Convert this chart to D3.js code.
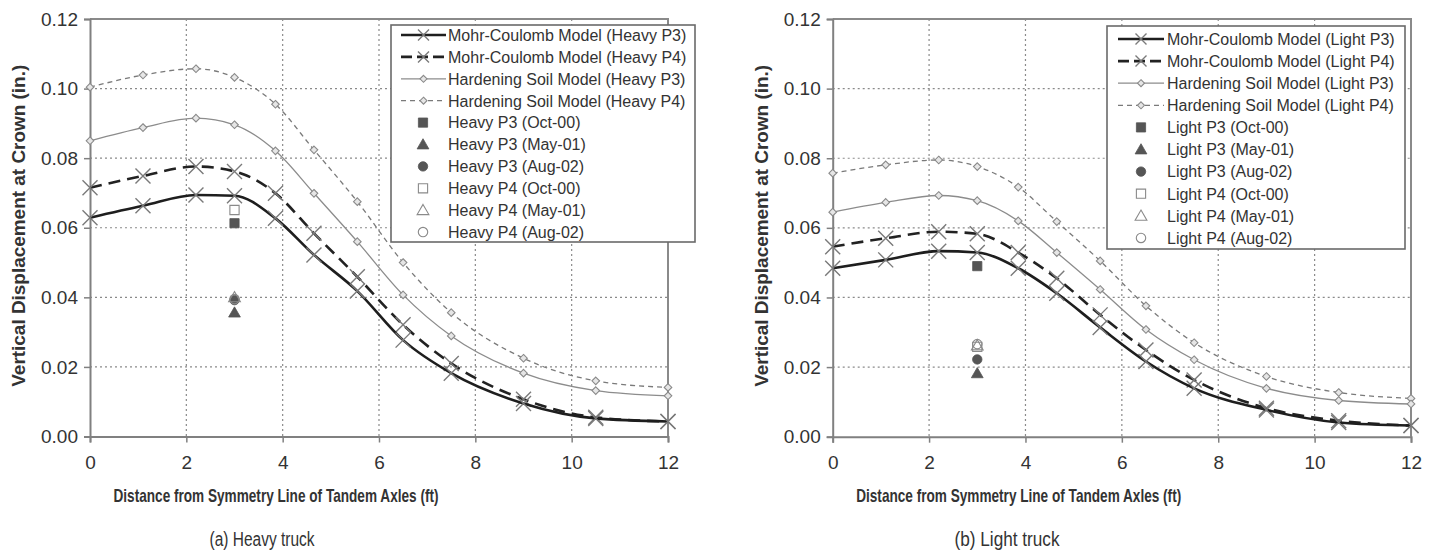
<!DOCTYPE html>
<html><head><meta charset="utf-8">
<script src="https://cdn.jsdelivr.net/npm/d3@7/dist/d3.min.js"></script>
<style>body{margin:0;background:#fff}svg{display:block}text{font-family:"Liberation Sans",Arial,sans-serif;fill:#333}</style>
</head><body><svg id="c" width="1432" height="550"></svg>
<script>
// ---- data ----
const distances = [0, 1.1, 2.2, 3.0, 3.85, 4.65, 5.55, 6.5, 7.5, 9.0, 10.5, 12];
const xTicks = [0, 2, 4, 6, 8, 10, 12];
const yTicks = [0, 0.02, 0.04, 0.06, 0.08, 0.10, 0.12];
const yTickLabels = ["0.00", "0.02", "0.04", "0.06", "0.08", "0.10", "0.12"];

const heavyMC_P3 = [0.0629, 0.0663, 0.0694, 0.0692, 0.0627, 0.0522, 0.0418, 0.0277, 0.0182, 0.0095, 0.0052, 0.0043];
const heavyMC_P4 = [0.0715, 0.0749, 0.0776, 0.0762, 0.0699, 0.0584, 0.0459, 0.0321, 0.0210, 0.0107, 0.0055, 0.0043];
const heavyHS_P3 = [0.0850, 0.0888, 0.0915, 0.0896, 0.0821, 0.0699, 0.0560, 0.0407, 0.0289, 0.0182, 0.0132, 0.0117];
const heavyHS_P4 = [0.1004, 0.1039, 0.1057, 0.1032, 0.0955, 0.0824, 0.0675, 0.0500, 0.0356, 0.0225, 0.0160, 0.0141];

const lightMC_P3 = [0.0484, 0.0508, 0.0533, 0.0529, 0.0484, 0.0412, 0.0314, 0.0216, 0.0139, 0.0077, 0.0041, 0.0032];
const lightMC_P4 = [0.0546, 0.0570, 0.0589, 0.0583, 0.0529, 0.0455, 0.0350, 0.0249, 0.0163, 0.0082, 0.0046, 0.0032];
const lightHS_P3 = [0.0645, 0.0673, 0.0693, 0.0678, 0.0620, 0.0529, 0.0423, 0.0308, 0.0221, 0.0139, 0.0104, 0.0094];
const lightHS_P4 = [0.0757, 0.0781, 0.0795, 0.0776, 0.0717, 0.0618, 0.0505, 0.0376, 0.0270, 0.0173, 0.0127, 0.0110];

const measuredX = 3.0;
const measuredLabels = ["P3 (Oct-00)", "P3 (May-01)", "P3 (Aug-02)", "P4 (Oct-00)", "P4 (May-01)", "P4 (Aug-02)"];
const heavyMeasured = [0.0613, 0.0356, 0.0392, 0.0651, 0.0400, 0.0395];
const lightMeasured = [0.0490, 0.0182, 0.0222, 0.0258, 0.0262, 0.0266];

const xTitle = "Distance from Symmetry Line of Tandem Axles (ft)";
const yTitle = "Vertical Displacement at Crown (in.)";

// ---- drawing ----
const svg = d3.select("#c");
const panels = [
  {name:"Heavy", caption:"(a) Heavy truck", L:90, R:668, T:19, B:436.5,
   mc3:heavyMC_P3, mc4:heavyMC_P4, hs3:heavyHS_P3, hs4:heavyHS_P4, meas:heavyMeasured,
   leg:{x:391, y:25, w:304, h:217, row0:35, step:21.9, lineX0:401, lineX1:446, textX:448, markX:423},
   yTitleX:25, capX:262},
  {name:"Light", caption:"(b) Light truck", L:832.7, R:1411, T:19, B:436.7,
   mc3:lightMC_P3, mc4:lightMC_P4, hs3:lightHS_P3, hs4:lightHS_P4, meas:lightMeasured,
   leg:{x:1107, y:26, w:298, h:223, row0:39, step:22.1, lineX0:1118, lineX1:1164, textX:1167, markX:1141},
   yTitleX:768, capX:1007}
];

function xMark(g, x, y, h, color) {
  g.append("path").attr("d", `M${x-h},${y-h}L${x+h},${y+h}M${x-h},${y+h}L${x+h},${y-h}`)
    .attr("stroke", color).attr("stroke-width", 1.4).attr("fill", "none");
}
function diamond(g, x, y, h) {
  g.append("path").attr("d", `M${x},${y-h}L${x+h},${y}L${x},${y+h}L${x-h},${y}Z`)
    .attr("stroke", "#8a8a8a").attr("stroke-width", 1.1).attr("fill", "#e6e6e6");
}
const symTypes = [d3.symbolSquare, d3.symbolTriangle, d3.symbolCircle];
function measMark(g, x, y, i) {
  const filled = i < 3;
  const t = symTypes[i % 3];
  const size = t === d3.symbolTriangle ? 60 : (t === d3.symbolCircle ? 70 : 85);
  g.append("path").attr("d", d3.symbol().type(t).size(size)())
    .attr("transform", `translate(${x},${y + (t === d3.symbolTriangle ? 1 : 0)})`)
    .attr("fill", filled ? "#555" : "none")
    .attr("stroke", filled ? "#555" : "#8a8a8a").attr("stroke-width", filled ? 0.8 : 1.1);
}

const styles = {
  mc3: {stroke:"#1e1e1e", width:2.6, dash:null, mark:"x"},
  mc4: {stroke:"#222", width:2.6, dash:"12,7", mark:"x"},
  hs3: {stroke:"#8c8c8c", width:1.3, dash:null, mark:"d"},
  hs4: {stroke:"#7a7a7a", width:1.3, dash:"5,4", mark:"d"}
};

panels.forEach(p => {
  const x = d3.scaleLinear().domain([0, 12]).range([p.L, p.R]);
  const y = d3.scaleLinear().domain([0, 0.12]).range([p.B, p.T]);
  const g = svg.append("g");

  // grid
  g.append("g").selectAll("line").data(xTicks.filter(t => t > 0 && t < 12)).join("line")
    .attr("x1", d => x(d)).attr("x2", d => x(d)).attr("y1", p.T).attr("y2", p.B)
    .attr("stroke", "#8a8a8a").attr("stroke-width", 1.2).attr("stroke-dasharray", "2,3");
  g.append("g").selectAll("line").data(yTicks.filter(t => t > 0 && t < 0.12)).join("line")
    .attr("x1", p.L).attr("x2", p.R).attr("y1", d => y(d)).attr("y2", d => y(d))
    .attr("stroke", "#8a8a8a").attr("stroke-width", 1.2).attr("stroke-dasharray", "2,3");

  // frame (top & right)
  g.append("path").attr("d", `M${p.L},${p.T}H${p.R}V${p.B}`).attr("fill", "none")
    .attr("stroke", "#8a8a8a").attr("stroke-width", 2);

  // axes
  const xa = g.append("g").attr("transform", `translate(0,${p.B})`)
    .call(d3.axisBottom(x).tickValues(xTicks).tickSize(6).tickPadding(13).tickFormat(d3.format("d")));
  const ya = g.append("g").attr("transform", `translate(${p.L},0)`)
    .call(d3.axisLeft(y).tickValues(yTicks).tickSize(6).tickPadding(6).tickFormat((d, i) => yTickLabels[i]));
  [xa, ya].forEach(a => {
    a.select(".domain").attr("stroke", "#808080").attr("stroke-width", 2);
    a.selectAll(".tick line").attr("stroke", "#808080").attr("stroke-width", 1.5);
    a.selectAll("text").style("font-family", '"Liberation Sans",Arial,sans-serif')
      .attr("font-size", 19).attr("fill", "#3a3a3a");
  });

  // lines
  const lineGen = d3.line().x((d, i) => x(distances[i])).y(d => y(d)).curve(d3.curveMonotoneX);
  ["hs4", "hs3", "mc4", "mc3"].forEach(k => {
    const s = styles[k];
    g.append("path").attr("d", lineGen(p[k])).attr("fill", "none")
      .attr("stroke", s.stroke).attr("stroke-width", s.width)
      .attr("stroke-dasharray", s.dash);
    p[k].forEach((v, i) => {
      if (s.mark === "x") xMark(g, x(distances[i]), y(v), 7.5, "#7a7a7a");
      else diamond(g, x(distances[i]), y(v), 3.8);
    });
  });

  // measured points
  p.meas.forEach((v, i) => measMark(g, x(measuredX), y(v), i));

  // titles
  g.append("text").attr("x", p.L + 186).attr("y", 502).attr("text-anchor", "middle")
    .attr("font-weight", "bold").attr("font-size", 18.5).attr("fill", "#333")
    .attr("textLength", 325).attr("lengthAdjust", "spacingAndGlyphs").text(xTitle);
  g.append("text").attr("transform", `translate(${p.yTitleX},${(p.T + p.B) / 2 - 2}) rotate(-90)`)
    .attr("text-anchor", "middle").attr("font-weight", "bold").attr("font-size", 18).attr("fill", "#333")
    .attr("textLength", 322).attr("lengthAdjust", "spacingAndGlyphs").text(yTitle);
  g.append("text").attr("x", p.capX).attr("y", 546).attr("text-anchor", "middle")
    .attr("font-size", 19.5).attr("fill", "#222")
    .attr("textLength", 105).attr("lengthAdjust", "spacingAndGlyphs").text(p.caption);

  // legend
  const lg = p.leg;
  g.append("rect").attr("x", lg.x).attr("y", lg.y).attr("width", lg.w).attr("height", lg.h)
    .attr("fill", "#fff").attr("stroke", "#6a6a6a").attr("stroke-width", 1.6);
  const legItems = [
    {k:"mc3", label:`Mohr-Coulomb Model (${p.name} P3)`},
    {k:"mc4", label:`Mohr-Coulomb Model (${p.name} P4)`},
    {k:"hs3", label:`Hardening Soil Model (${p.name} P3)`},
    {k:"hs4", label:`Hardening Soil Model (${p.name} P4)`}
  ].concat(measuredLabels.map((m, i) => ({m:i, label:`${p.name} ${m}`})));
  legItems.forEach((it, r) => {
    const cy = lg.row0 + r * lg.step;
    if (it.k) {
      const s = styles[it.k];
      g.append("line").attr("x1", lg.lineX0).attr("x2", lg.lineX1).attr("y1", cy).attr("y2", cy)
        .attr("stroke", s.stroke).attr("stroke-width", s.width).attr("stroke-dasharray", s.dash ? (it.k === "mc4" ? "11,5" : "5,4") : null);
      const mx = (lg.lineX0 + lg.lineX1) / 2;
      if (s.mark === "x") xMark(g, mx, cy, 5.5, "#7a7a7a"); else diamond(g, mx, cy, 3.5);
    } else {
      measMark(g, lg.markX, cy, it.m);
    }
    g.append("text").attr("x", lg.textX).attr("y", cy + 5.8).attr("font-size", 16).attr("fill", "#3a3a3a").text(it.label);
  });
});
</script></body></html>
